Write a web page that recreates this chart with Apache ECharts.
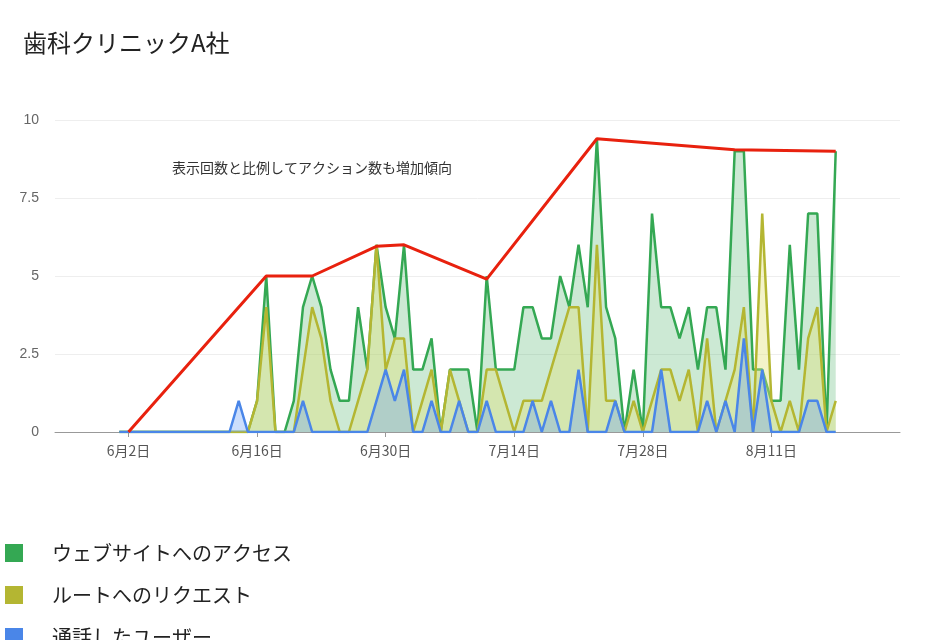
<!DOCTYPE html>
<html><head><meta charset="utf-8">
<script src="https://cdn.jsdelivr.net/npm/echarts@6/dist/echarts.min.js"></script>
<style>html,body{margin:0;background:#fff}#c{width:941px;height:640px}</style>
</head><body><div id="c"></div>
<script>
// data: daily values 6/1 .. 8/18
const website = [0,0,0,0,0,0,0,0,0,0,0,0,0,0,0,1,5,0,0,1,4,5,4,2,1,1,4,2,6,4,3,6,2,2,3,0,2,2,2,0,5,2,2,2,4,4,3,3,5,4,6,4,9.4,4,3,0,2,0,7,4,4,3,4,2,4,4,2,9,9,2,2,1,1,6,2,7,7,0,9];
const route   = [0,0,0,0,0,0,0,0,0,0,0,0,0,0,0,1,4,0,0,0,2,4,3,1,0,0,1,2,6,2,3,3,0,1,2,0,2,1,0,0,2,2,1,0,1,1,1,2,3,4,4,0,6,1,1,0,1,0,1,2,2,1,2,0,3,0,1,2,4,0,7,1,0,1,0,3,4,0,1];
const calls   = [0,0,0,0,0,0,0,0,0,0,0,0,0,1,0,0,0,0,0,0,1,0,0,0,0,0,0,0,1,2,1,2,0,0,1,0,0,1,0,0,1,0,0,0,0,1,0,1,0,0,2,0,0,0,1,0,0,0,0,2,0,0,0,0,1,0,1,0,3,0,2,0,0,0,0,1,1,0,0];
const trendDays = ['6月2日','6月17日','6月22日','6月29日','7月2日','7月11日','7月23日','8月7日','8月18日'];
const trendVals = [0,5,5,5.95,6,4.9,9.4,9.05,9];
const yTicks = ['0','2.5','5','7.5','10'];
const seriesNames = ['ウェブサイトへのアクセス','ルートへのリクエスト','通話したユーザー'];

// axis categories 5/25 .. 8/25
const cats = [];
const d0 = new Date(2023,4,25);
for (let i=0;i<93;i++){const d=new Date(d0.getTime()+i*86400000);cats.push((d.getMonth()+1)+'月'+d.getDate()+'日');}
const off = cats.indexOf('6月1日');
const pad = a => cats.map((c,i)=> (i>=off && i-off<a.length) ? a[i-off] : null);
const trend = cats.map(c=>{const k=trendDays.indexOf(c);return k>=0?trendVals[k]:null;});
const start = cats.indexOf('6月2日');
const showIdx = (i)=> i>=start && i<cats.length-1 && (i-start)%14===0;

const chart = echarts.init(document.getElementById('c'));
const colors = ['#34a853','#b4b632','#4a86e8'];
const fills = ['rgba(52,168,83,0.25)','rgba(225,225,120,0.4)','rgba(110,160,245,0.35)'];
const mk = (k,data)=>({name:seriesNames[k],type:'line',data:pad(data),symbol:'none',
  lineStyle:{color:colors[k],width:2.5},itemStyle:{color:colors[k]},areaStyle:{color:fills[k],opacity:1},z:2+k});
chart.setOption({
  animation:false,
  title:{text:'歯科クリニックA社',left:18,top:26,textStyle:{fontSize:24,fontWeight:'normal',color:'#222',fontFamily:'Noto Sans CJK JP'}},
  graphic:[{type:'text',left:172,top:161,style:{text:'表示回数と比例してアクション数も増加傾向',fontSize:14,fill:'#333',fontFamily:'Noto Sans CJK JP'}}],
  legend:{orient:'vertical',left:0,top:538,height:200,itemGap:22,itemWidth:18,itemHeight:18,icon:'rect',
    data:seriesNames,textStyle:{fontSize:20,color:'#222',padding:[0,0,0,24],fontFamily:'Noto Sans CJK JP'}},
  grid:{left:55,right:41,top:120,height:312,containLabel:false},
  xAxis:{type:'category',data:cats,boundaryGap:false,
    axisLine:{lineStyle:{color:'#999'}},
    axisTick:{interval:(i)=>showIdx(i),length:5,lineStyle:{color:'#999'}},
    axisLabel:{interval:(i)=>showIdx(i),color:'#555',fontSize:14,margin:12,fontFamily:'Noto Sans CJK JP'},
    splitLine:{show:false}},
  yAxis:{type:'value',min:0,max:10,interval:2.5,
    axisLabel:{color:'#666',fontSize:14,margin:16,formatter:(v)=>yTicks[Math.round(v/2.5)]},
    splitLine:{lineStyle:{color:'#eee'}},axisLine:{show:false},axisTick:{show:false}},
  series:[mk(0,website),mk(1,route),mk(2,calls),
    {name:'trend',type:'line',data:trend,connectNulls:true,symbol:'none',lineStyle:{color:'#e8210e',width:3},z:10}]
});
</script></body></html>
